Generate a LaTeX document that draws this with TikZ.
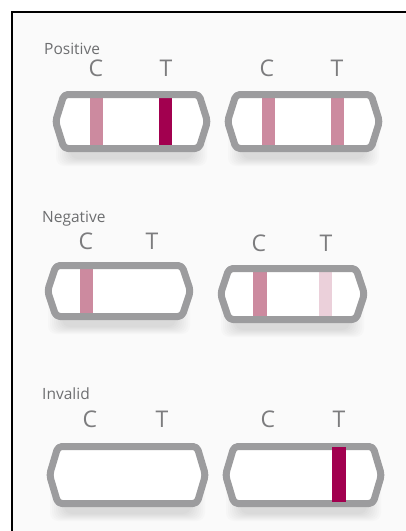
\documentclass[tikz,border=0pt]{standalone}
\usepackage{fontspec}
\setmainfont{Open Sans}
\definecolor{stripgray}{HTML}{9C9C9E}
\definecolor{cpink}{HTML}{CC8A9F}
\definecolor{darkmag}{HTML}{A2004F}
\definecolor{lightpink}{HTML}{EBD0DA}
\definecolor{labgray}{HTML}{6D6E70}
\definecolor{bgin}{HTML}{FAFAFA}
\newcommand{\strippath}[4]{({#1+12},{#3+3.5}) -- ({#2-12},{#3+3.5}) -- ({#2-3.5},{(#3+#4)/2}) -- ({#2-12},{#4-3.5}) -- ({#1+12},{#4-3.5}) -- ({#1+3.5},{(#3+#4)/2}) -- cycle}
\newcommand{\stripbase}[4]{%
  \foreach \k in {0,...,7} {\fill[black, opacity=0.014, rounded corners=8pt] ({#1+4+2*\k},{#3+14+\k}) rectangle ({#2-4-2*\k},{#4+14-\k});}
  \fill[white, rounded corners=4pt] \strippath{#1}{#2}{#3}{#4};}
\newcommand{\stripedge}[4]{\draw[stripline] \strippath{#1}{#2}{#3}{#4};}
\newcommand{\band}[5]{\fill[#5] (#1,{#3+6}) rectangle (#2,{#4-6});}
\begin{document}
\begin{tikzpicture}[x=1pt,y=-1pt,
  stripline/.style={draw=stripgray, line width=7pt, rounded corners=4pt, line join=round},
  heading/.style={anchor=base west, text=labgray, font=\fontsize{15.5}{15.5}\selectfont, inner sep=0pt},
  letter/.style={anchor=base, text=labgray!90, font=\fontsize{23}{23}\selectfont, inner sep=0pt}]
\useasboundingbox (0,0) rectangle (406,531);
\fill[white] (0,0) rectangle (406,531);
\fill[bgin] (12,12) rectangle (406,531);
\draw[line width=2pt] (12,531) -- (12,12) -- (406,12);

% Positive
\node[heading] (hpos) at (44,54) {Positive};
\node[letter] (pc1) at (96,76) {C};
\node[letter] (pt1) at (166,76) {T};
\node[letter] (pc2) at (267,76) {C};
\node[letter] (pt2) at (337,76) {T};
\stripbase{52}{211}{91}{152}
\band{90}{103}{91}{152}{cpink}
\band{159}{172}{91}{152}{darkmag}
\stripedge{52}{211}{91}{152}
\stripbase{224}{383}{91}{152}
\band{262}{275}{91}{152}{cpink}
\band{331}{344}{91}{152}{cpink}
\stripedge{224}{383}{91}{152}

% Negative
\node[heading] (hneg) at (42,222) {Negative};
\node[letter] (nc1) at (86,249) {C};
\node[letter] (nt1) at (152,249) {T};
\node[letter] (nc2) at (259,251) {C};
\node[letter] (nt2) at (326,251) {T};
\stripbase{44}{194}{262}{320}
\band{80}{93}{262}{320}{cpink}
\stripedge{44}{194}{262}{320}
\stripbase{217}{368}{265}{323}
\band{253}{267}{265}{323}{cpink}
\band{319}{332}{265}{323}{lightpink}
\stripedge{217}{368}{265}{323}

% Invalid
\node[heading] (hinv) at (42,399) {Invalid};
\node[letter] (ic1) at (90,427) {C};
\node[letter] (it1) at (162,427) {T};
\node[letter] (ic2) at (268,427) {C};
\node[letter] (it2) at (339,427) {T};
\stripbase{46}{209}{443}{507}
\stripedge{46}{209}{443}{507}
\stripbase{222}{385}{443}{507}
\stripedge{222}{385}{443}{507}
\fill[darkmag] (332,447) rectangle (346,502);
\end{tikzpicture}
\end{document}
